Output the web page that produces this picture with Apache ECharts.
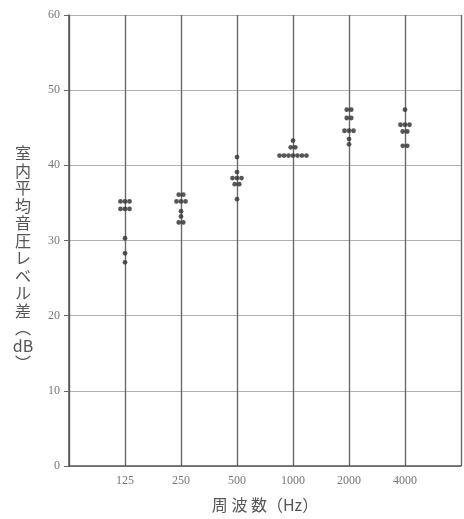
<!DOCTYPE html>
<html><head><meta charset="utf-8">
<script src="https://cdn.jsdelivr.net/npm/echarts@6/dist/echarts.min.js"></script>
<style>html,body{margin:0;padding:0;background:#fff}#c{width:464px;height:519px}</style>
</head><body><div id="c"></div>
<script>
// Categories (frequency, Hz)
const freqLabels = ['125', '250', '500', '1000', '2000', '4000'];
// Y tick values
const yTicks = [0, 10, 20, 30, 40, 50, 60];
// Measured rows for each band: [level dB, number of dots in that row]
const rows125  = [[35.2, 3], [34.2, 3], [30.3, 1], [28.3, 1], [27.1, 1]];
const rows250  = [[36.1, 2], [35.2, 3], [33.9, 1], [33.2, 1], [32.4, 2]];
const rows500  = [[41.1, 1], [39.1, 1], [38.3, 3], [37.5, 2], [35.5, 1]];
const rows1000 = [[43.3, 1], [42.4, 2], [41.3, 7]];
const rows2000 = [[47.4, 2], [46.3, 2], [44.6, 3], [43.5, 1], [42.8, 1]];
const rows4000 = [[47.4, 1], [45.4, 3], [44.5, 2], [42.6, 2]];
const allRows = [rows125, rows250, rows500, rows1000, rows2000, rows4000];

const yTitle = ['室','内','平','均','音','圧','レ','ベ','ル','差','︵','dB','︶'];
const xTitle = '周 波 数（Hz）';

const pts = [];
const step = 0.08;
allRows.forEach((rows, ci) => {
  rows.forEach(([v, n]) => {
    for (let k = 0; k < n; k++) {
      pts.push([ci + 1 + (k - (n - 1) / 2) * step, v]);
    }
  });
});

const chart = echarts.init(document.getElementById('c'));
chart.setOption({
  backgroundColor: '#fff',
  animation: false,
  grid: { left: 69, right: 3, top: 15, bottom: 53 },
  xAxis: {
    type: 'value', min: 0, max: freqLabels.length + 1, interval: 1,
    name: xTitle, nameLocation: 'middle', nameGap: 31,
    nameTextStyle: { fontFamily: 'Noto Sans CJK JP', fontSize: 16, color: '#555' },
    axisLine: { show: true, lineStyle: { color: '#555', width: 1.5 } },
    axisTick: { show: false },
    axisLabel: {
      color: '#777', fontFamily: 'Liberation Serif', fontSize: 12, margin: 9,
      formatter: v => (v >= 1 && v <= freqLabels.length) ? freqLabels[v - 1] : ''
    },
    splitLine: { show: true, lineStyle: { color: '#6a6a6a', width: 1.4 } }
  },
  yAxis: {
    type: 'value', min: yTicks[0], max: yTicks[yTicks.length - 1], interval: 10,
    name: '\n\n' + yTitle.join('\n'), nameLocation: 'middle', nameGap: 46, nameRotate: 0,
    nameTextStyle: { fontFamily: 'Noto Sans CJK JP', fontSize: 16, lineHeight: 17.5,
      color: '#555', align: 'center', verticalAlign: 'middle' },
    axisLine: { show: true, lineStyle: { color: '#555', width: 1.5 } },
    axisTick: { show: true, inside: false, length: 5, lineStyle: { color: '#666' } },
    axisLabel: { color: '#777', fontFamily: 'Liberation Serif', fontSize: 12, margin: 9 },
    splitLine: { show: true, lineStyle: { color: '#b0b0b0', width: 1.2 } }
  },
  series: [{
    type: 'scatter', data: pts, symbol: 'circle', symbolSize: 4.8,
    itemStyle: { color: '#383838', opacity: 0.85 }
  }]
});
</script></body></html>
